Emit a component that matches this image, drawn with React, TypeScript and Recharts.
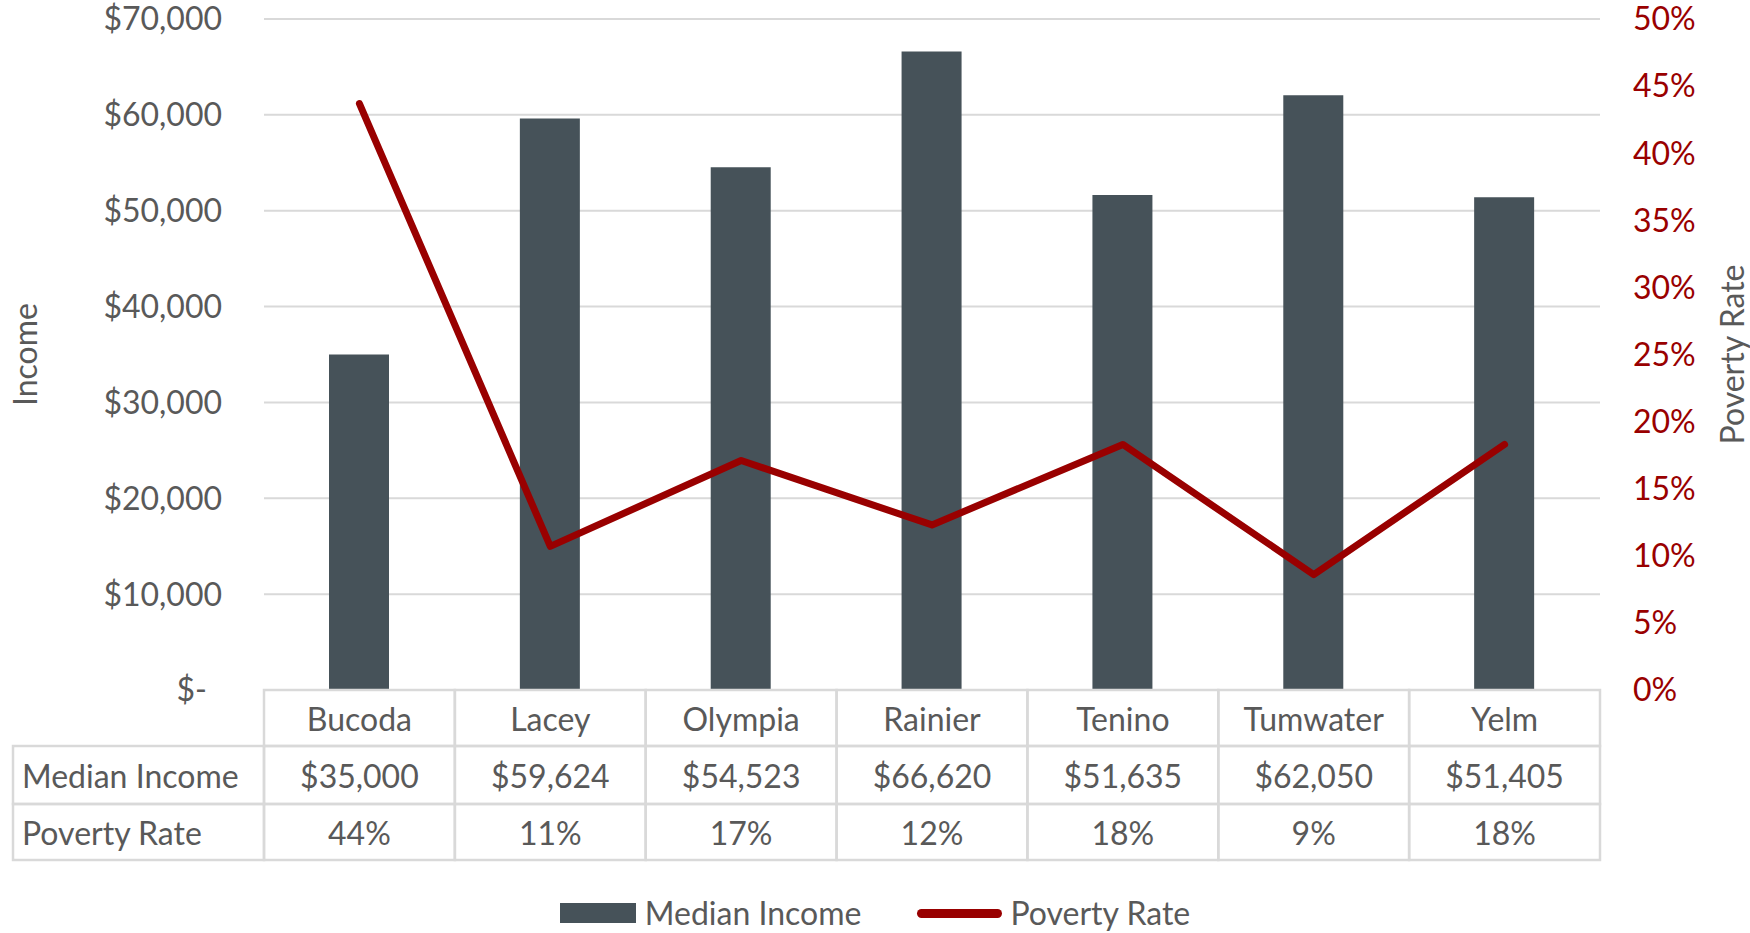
import React from "react";
import { ComposedChart, Bar, Line, XAxis, YAxis, CartesianGrid, Legend } from "recharts";

const cities = ["Bucoda", "Lacey", "Olympia", "Rainier", "Tenino", "Tumwater", "Yelm"];
const medianIncome = [35000, 59624, 54523, 66620, 51635, 62050, 51405];
const povertyRate = [43.7, 10.7, 17.1, 12.3, 18.3, 8.6, 18.3];
const incomeTicks = [0, 10000, 20000, 30000, 40000, 50000, 60000, 70000];
const rateTicks = [0, 5, 10, 15, 20, 25, 30, 35, 40, 45, 50];
const rowNames = ["Median Income", "Poverty Rate"];

const data = cities.map((city, i) => ({ city, income: medianIncome[i], rate: povertyRate[i] }));

const W = 1750;
const H = 933;
const LEFT_W = 264;
const RIGHT_W = 150;
const TOP = 19;
const AXIS_H = 203;
const LEGEND_H = 40;
const BAND = (W - LEFT_W - RIGHT_W) / cities.length;
const ROWS = [56, 58, 56];
const HEAD_W = 251;
const FONT = 32;

const GRAY = "#595959";
const RULE = "#d9d9d9";
const SLATE = "#465259";
const RED = "#990000";

const money = (v: number) => (v === 0 ? "$-" : "$" + v.toLocaleString("en-US"));
const pct = (v: number) => `${Math.round(v)}%`;

// each x tick draws its own column of the data table
function TableTick({ x, y, payload }: any) {
  const i = cities.indexOf(payload.value);
  const left = x - BAND / 2;
  const tops = [y, y + ROWS[0], y + ROWS[0] + ROWS[1]];
  const cells = [cities[i], money(medianIncome[i]), pct(povertyRate[i])];
  return (
    <g>
      {cells.map((t, r) => (
        <g key={r}>
          <rect x={left} y={tops[r]} width={BAND} height={ROWS[r]} fill="none" stroke={RULE} strokeWidth={2.5} />
          <text x={x} y={tops[r] + ROWS[r] / 2} textAnchor="middle" dominantBaseline="central" fill={GRAY} fontSize={FONT}>
            {t}
          </text>
        </g>
      ))}
      {i === 0 &&
        rowNames.map((name, r) => (
          <g key={name}>
            <rect x={left - HEAD_W} y={tops[r + 1]} width={HEAD_W} height={ROWS[r + 1]} fill="none" stroke={RULE} strokeWidth={2.5} />
            <text x={left - HEAD_W + 9} y={tops[r + 1] + ROWS[r + 1] / 2} dominantBaseline="central" fill={GRAY} fontSize={FONT}>
              {name}
            </text>
          </g>
        ))}
    </g>
  );
}

function MoneyTick({ x, y, payload }: any) {
  return (
    <text x={payload.value === 0 ? x - 15 : x} y={y} dy="0.355em" textAnchor="end" fill={GRAY} fontSize={FONT}>
      {money(payload.value)}
    </text>
  );
}

const axisTitle = (text: string, dx: number) => (props: any) => {
  const vb = props.viewBox;
  const cx = vb.x + dx;
  const cy = vb.y + vb.height / 2;
  return (
    <text x={cx} y={cy} transform={`rotate(-90 ${cx} ${cy})`} textAnchor="middle" dominantBaseline="central" fill={GRAY} fontSize={FONT}>
      {text}
    </text>
  );
};

function LegendBox({ payload }: any) {
  return (
    <div style={{ display: "flex", justifyContent: "center", alignItems: "center", gap: 56, height: LEGEND_H, paddingTop: 0, color: GRAY, fontSize: FONT, lineHeight: 1 }}>
      {(payload || []).map((p: any) => (
        <div key={p.value} style={{ display: "flex", alignItems: "center" }}>
          {p.dataKey === "rate" ? (
            <div style={{ width: 85, height: 9, borderRadius: 5, background: RED, marginRight: 8 }} />
          ) : (
            <div style={{ width: 76, height: 20, background: SLATE, marginRight: 9 }} />
          )}
          <span>{p.value}</span>
        </div>
      ))}
    </div>
  );
}

export default function App() {
  return (
    <div style={{ position: "absolute", left: 0, top: 0, width: W, height: H, background: "#fff", fontFamily: "Lato" }}>
      <ComposedChart width={W} height={H} data={data} margin={{ top: TOP, right: 0, bottom: 0, left: 0 }}>
        <CartesianGrid vertical={false} yAxisId="left" stroke={RULE} strokeWidth={2} />
        <XAxis dataKey="city" height={AXIS_H} interval={0} tickSize={0} tickMargin={0} axisLine={false} tickLine={false} tick={<TableTick />} />
        <YAxis
          yAxisId="left"
          width={LEFT_W}
          domain={[0, 70000]}
          ticks={incomeTicks}
          tickSize={0}
          tickMargin={42}
          axisLine={false}
          tickLine={false}
          tick={<MoneyTick />}
          label={axisTitle("Income", 24)}
        />
        <YAxis
          yAxisId="right"
          orientation="right"
          width={RIGHT_W}
          domain={[0, 50]}
          ticks={rateTicks}
          tickSize={0}
          tickMargin={33}
          axisLine={false}
          tickLine={false}
          tick={{ fill: RED, fontSize: FONT }}
          tickFormatter={(v: number) => `${v}%`}
          label={axisTitle("Poverty Rate", 131)}
        />
        <Bar yAxisId="left" dataKey="income" name="Median Income" fill={SLATE} barSize={60} isAnimationActive={false} />
        <Line
          yAxisId="right"
          type="linear"
          dataKey="rate"
          name="Poverty Rate"
          stroke={RED}
          strokeWidth={7}
          strokeLinecap="round"
          strokeLinejoin="round"
          dot={false}
          activeDot={false}
          isAnimationActive={false}
        />
        <Legend verticalAlign="bottom" height={LEGEND_H} content={<LegendBox />} />
      </ComposedChart>
    </div>
  );
}
